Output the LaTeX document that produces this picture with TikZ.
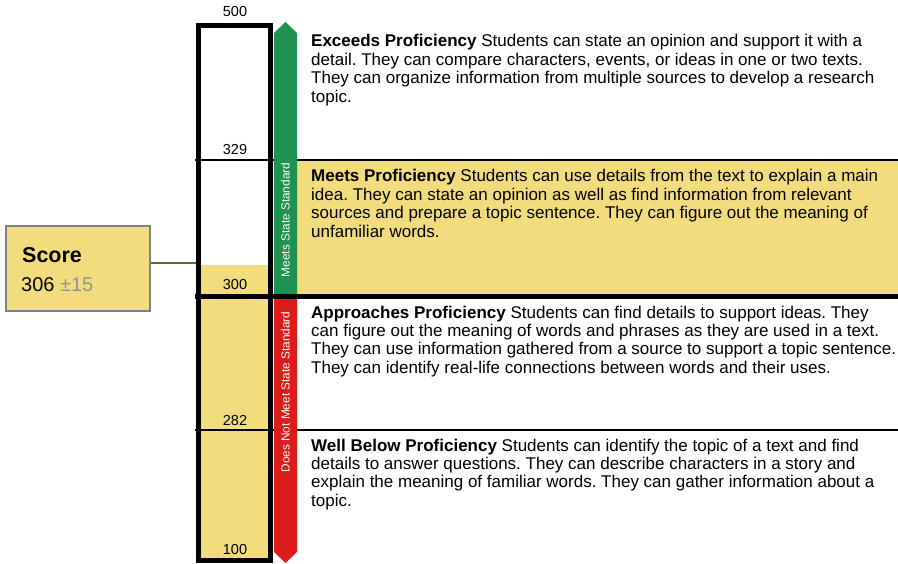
\documentclass[tikz,border=0pt]{standalone}
\usepackage{fontspec}
\setmainfont{Liberation Sans}
\usepackage{xcolor}
\frenchspacing

\begin{document}
\begin{tikzpicture}[x=1pt,y=-1pt,
  lvltext/.style={anchor=base west,align=left,inner sep=0,font=\fontsize{17}{18.4}\selectfont},
  numlbl/.style={inner sep=0,font=\fontsize{14.5}{16}\selectfont},
  bandtext/.style={rotate=90,text=white,inner sep=0,font=\fontsize{11.8}{13}\selectfont},
  cutline/.style={line width=2pt}]
\definecolor{scoreyellow}{HTML}{F3DC7D}
\definecolor{metgreen}{HTML}{1F9150}
\definecolor{notred}{HTML}{DC1B1B}
\definecolor{boxgray}{HTML}{7F7F7F}
\definecolor{linkolive}{HTML}{6E5F24}
\useasboundingbox (0,0) rectangle (898,564);
\fill[scoreyellow] (297,160) rectangle (898,296.5);
\fill[scoreyellow] (198.5,265) rectangle (270.5,560.5);
  \foreach \yy in {160,430}
  {  \draw[cutline] (195,\yy) -- (898,\yy);}
\fill[metgreen] (274,296.5) -- (274,33) -- (285.5,22) -- (297,33) -- (297,296.5) -- cycle;
\fill[notred] (274,296.5) -- (274,552) -- (285.5,563) -- (297,552) -- (297,296.5) -- cycle;
\draw[line width=5.5pt] (195,296.5) -- (898,296.5);
\node [draw,line width=5pt,minimum width=72pt,minimum height=535pt,inner sep=0] (bar) at (234.5,293) {};
  \foreach \val/\pos in {500/12,329/150,300/285,282/421,100/550}
  {  \node [numlbl] (n\val) at (235,\pos) {\val};}
\node [bandtext] (meets) at (285.5,220) {Meets State Standard};
\node [bandtext] (notmeets) at (285.5,392) {Does Not Meet State Standard};
\node [draw=boxgray,fill=scoreyellow,line width=1.5pt,minimum width=144pt,minimum height=85pt,inner sep=0] (score) at (78,268.5) {};
\node [anchor=base west,inner sep=0,font=\bfseries\fontsize{21.5}{24}\selectfont] (scorehead) at (22,263) {Score};
\node [anchor=base west,inner sep=0,font=\fontsize{20}{24}\selectfont] (scoreval) at (21,292) {306 \textcolor{boxgray!85}{±15}};
\coordinate (cut) at (196,263);
\draw[linkolive,line width=1.5pt] (score.east |- cut) -- (cut);
% base anchor sits on the last line
\node [lvltext] (exceeds) at (311,102.2) {\textbf{Exceeds Proficiency} Students can state an opinion and support it with a\\detail. They can compare characters, events, or ideas in one or two texts.\\They can organize information from multiple sources to develop a research\\topic.};
\node [lvltext] (meetsp) at (311,237.2) {\textbf{Meets Proficiency} Students can use details from the text to explain a main\\idea. They can state an opinion as well as find information from relevant\\sources and prepare a topic sentence. They can figure out the meaning of\\unfamiliar words.};
\node [lvltext] (approaches) at (311,373.2) {\textbf{Approaches Proficiency} Students can find details to support ideas. They\\can figure out the meaning of words and phrases as they are used in a text.\\They can use information gathered from a source to support a topic sentence.\\They can identify real-life connections between words and their uses.};
\node [lvltext] (below) at (311,506.2) {\textbf{Well Below Proficiency} Students can identify the topic of a text and find\\details to answer questions. They can describe characters in a story and\\explain the meaning of familiar words. They can gather information about a\\topic.};
\end{tikzpicture}
\end{document}
